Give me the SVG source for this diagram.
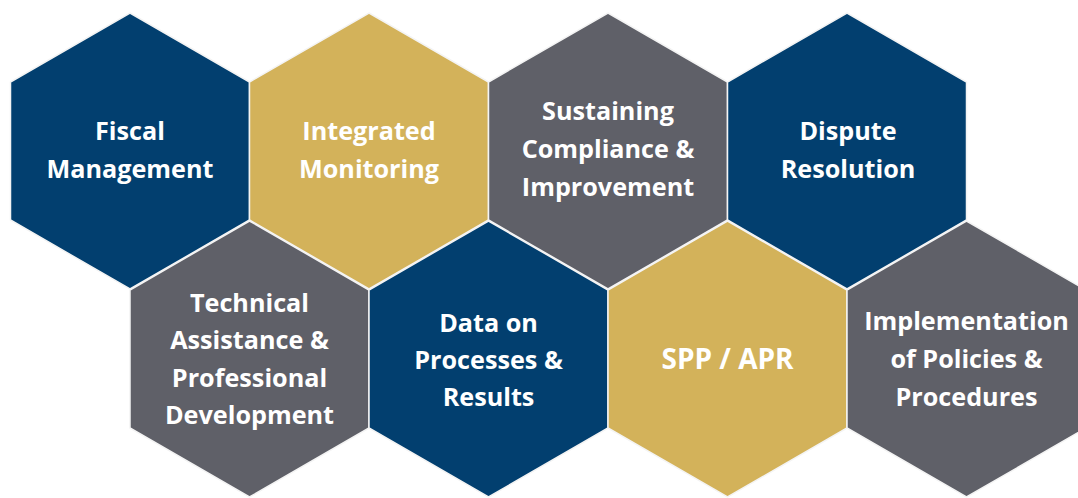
<svg xmlns="http://www.w3.org/2000/svg" xmlns:xlink="http://www.w3.org/1999/xlink" width="1078" height="498" viewBox="0 0 1078 498">
  <style>
    .hex { stroke: #f4f4f4; stroke-width: 1.5; stroke-linejoin: miter; }
    .navy { fill: #023f6f; }
    .gold { fill: #d3b25a; }
    .gray { fill: #5f6068; }
    .lbl { font-family: "Open Sans", "Liberation Sans", sans-serif; font-weight: 700; font-size: 25.2px; fill: #ffffff; text-anchor: middle; }
    .big { font-size: 28px; }
  </style>
  <defs>
    <!-- pointy-top hexagon centred on the origin -->
    <path id="hex" d="M0,-138 L119.5,-69 L119.5,69 L0,138 L-119.5,69 L-119.5,-69 Z"/>
  </defs>
  <rect width="1078" height="498" fill="#ffffff"/>

  <!-- top row -->
  <g id="fiscal-management">
    <use xlink:href="#hex" href="#hex" x="130" y="151" class="hex navy"/>
    <text class="lbl"><tspan x="130" y="140">Fiscal</tspan><tspan x="130" y="178">Management</tspan></text>
  </g>
  <g id="integrated-monitoring">
    <use xlink:href="#hex" href="#hex" x="369" y="151" class="hex gold"/>
    <text class="lbl"><tspan x="369" y="140">Integrated</tspan><tspan x="369" y="178">Monitoring</tspan></text>
  </g>
  <g id="sustaining-compliance">
    <use xlink:href="#hex" href="#hex" x="608" y="151" class="hex gray"/>
    <text class="lbl"><tspan x="608" y="120">Sustaining</tspan><tspan x="608" y="158">Compliance &amp;</tspan><tspan x="608" y="196">Improvement</tspan></text>
  </g>
  <g id="dispute-resolution">
    <use xlink:href="#hex" href="#hex" x="847" y="151" class="hex navy"/>
    <text class="lbl"><tspan x="848" y="140">Dispute</tspan><tspan x="848" y="178">Resolution</tspan></text>
  </g>

  <!-- bottom row -->
  <g id="technical-assistance">
    <use xlink:href="#hex" href="#hex" x="249.5" y="359" class="hex gray"/>
    <text class="lbl"><tspan x="249.5" y="312">Technical</tspan><tspan x="249.5" y="349">Assistance &amp;</tspan><tspan x="249.5" y="387">Professional</tspan><tspan x="249.5" y="424">Development</tspan></text>
  </g>
  <g id="data-processes-results">
    <use xlink:href="#hex" href="#hex" x="488.5" y="359" class="hex navy"/>
    <text class="lbl"><tspan x="488.5" y="332">Data on</tspan><tspan x="488.5" y="369">Processes &amp;</tspan><tspan x="488.5" y="406">Results</tspan></text>
  </g>
  <g id="spp-apr">
    <use xlink:href="#hex" href="#hex" x="727.5" y="359" class="hex gold"/>
    <text class="lbl big" x="727.5" y="369">SPP / APR</text>
  </g>
  <g id="implementation-policies">
    <use xlink:href="#hex" href="#hex" x="966.5" y="359" class="hex gray"/>
    <text class="lbl"><tspan x="966.5" y="330">Implementation</tspan><tspan x="966.5" y="368">of Policies &amp;</tspan><tspan x="966.5" y="406">Procedures</tspan></text>
  </g>

  <!-- no connectors in this layout -->
  <g id="connectors"/>
</svg>
